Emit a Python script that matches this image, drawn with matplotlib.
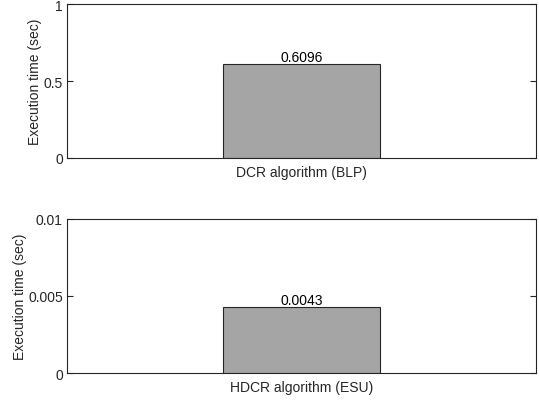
import matplotlib
matplotlib.use('Agg')
import matplotlib.pyplot as plt

plt.rcParams['font.family'] = ['Liberation Sans', 'DejaVu Sans']

# data
topLabels = ['DCR algorithm (BLP)']
topValues = [0.6096]
topTicks = [0, 0.5, 1]
topTickLabels = ['0', '0.5', '1']

bottomLabels = ['HDCR algorithm (ESU)']
bottomValues = [0.0043]
bottomTicks = [0, 0.005, 0.01]
bottomTickLabels = ['0', '0.005', '0.01']

yLabel = 'Execution time (sec)'

axisColor = '#262626'
barColor = '#a5a5a5'
fontSize = 10


def drawPanel(ax, labels, values, ticks, tickLabels):
    xs = list(range(1, len(values) + 1))
    bars = ax.bar(xs, values, width=0.67, color=barColor, edgecolor=axisColor, linewidth=0.8)
    for bar, v in zip(bars, values):
        ax.text(bar.get_x() + bar.get_width() / 2, v, '%.4f' % v,
                ha='center', va='bottom', fontsize=fontSize, color='black')
    ax.set_xlim(0, len(values) + 1)
    ax.set_ylim(ticks[0], ticks[-1])
    ax.set_xticks(xs)
    ax.set_xticklabels(labels, fontsize=fontSize, color=axisColor)
    ax.set_yticks(ticks)
    ax.set_yticklabels(tickLabels, fontsize=fontSize, color=axisColor)
    ax.set_ylabel(yLabel, fontsize=fontSize, color=axisColor, labelpad=1)
    ax.tick_params(axis='y', direction='in', length=4, width=0.8, right=True, color=axisColor, pad=3)
    ax.tick_params(axis='x', direction='in', length=0, pad=5)
    for s in ax.spines.values():
        s.set_color(axisColor)
        s.set_linewidth(0.8)


fig = plt.figure(figsize=(5.39, 4.02), dpi=100)

axTop = fig.add_axes([0.1243, 0.6045, 0.870, 0.383])
drawPanel(axTop, topLabels, topValues, topTicks, topTickLabels)

axBottom = fig.add_axes([0.1243, 0.069, 0.870, 0.3846])
drawPanel(axBottom, bottomLabels, bottomValues, bottomTicks, bottomTickLabels)

fig.savefig('out.png', dpi=100)
